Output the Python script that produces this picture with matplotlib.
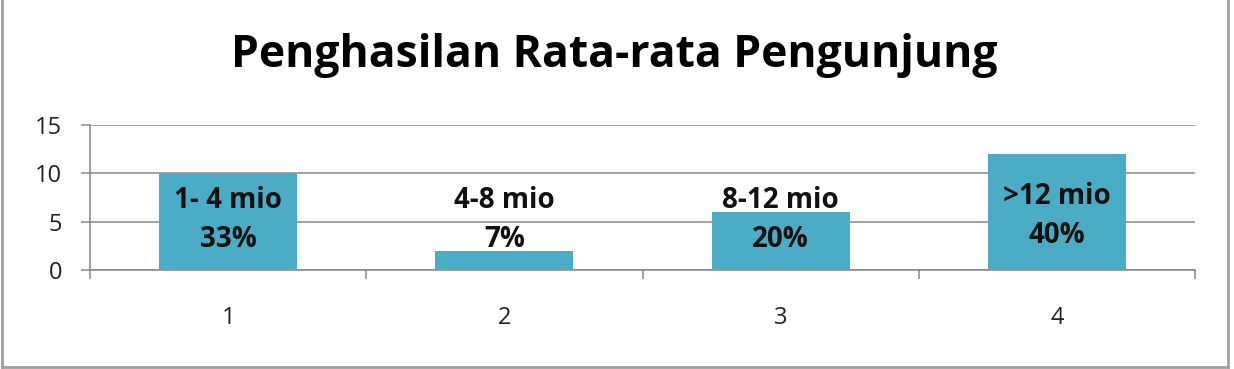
import matplotlib
matplotlib.use("Agg")
import matplotlib.pyplot as plt
from matplotlib.lines import Line2D

categories = ["1", "2", "3", "4"]
values = [10, 2, 6, 12]
labels = ["1- 4 mio\n33%", "4-8 mio\n7%", "8-12 mio\n20%", ">12 mio\n40%"]
label_y = [5.2, 5.2, 5.2, 5.6]
yticks = [0, 5, 10, 15]
title = "Penghasilan Rata-rata Pengunjung"

plt.rcParams['font.family'] = ['Open Sans', 'DejaVu Sans']

W, H = 1234, 369
fig = plt.figure(figsize=(W / 100, H / 100), dpi=100)
ax = fig.add_axes([90 / W, 1 - 270 / H, (1195 - 90) / W, (270 - 125) / H])

grid_c = "#868686"
bar_c = "#4BACC6"
x = list(range(len(categories)))
ax.bar(x, values, width=0.5, color=bar_c, zorder=3)
ax.set_xlim(-0.5, len(categories) - 0.5)
ax.set_ylim(0, 15)
ax.set_yticks(yticks)
ax.set_yticklabels([str(v) for v in yticks], fontsize=17, color="#222222")
ax.yaxis.grid(True, color=grid_c, linewidth=1.1, zorder=0)
ax.set_axisbelow(True)

ax.set_xticks(x)
ax.set_xticklabels(categories, fontsize=17, color="#222222")
ax.tick_params(axis='x', which='major', length=0, pad=26)
ax.set_xticks([i - 0.5 for i in range(len(categories) + 1)], minor=True)
ax.tick_params(axis='x', which='minor', length=6.5, width=1.1, color=grid_c, direction='out')
ax.tick_params(axis='y', length=6.5, width=1.1, color=grid_c, direction='out', pad=13.5)

for s in ['top', 'right']:
    ax.spines[s].set_visible(False)
for s in ['left', 'bottom']:
    ax.spines[s].set_color(grid_c)
    ax.spines[s].set_linewidth(1.1)

for xi, lab, ly in zip(x, labels, label_y):
    ax.text(xi, ly, lab, ha='center', va='center', fontsize=20, fontweight='bold',
            color="#111111", linespacing=1.45, zorder=4)

fig.text(614.5 / W, 1 - 55 / H, title, ha='center', va='center', fontsize=32,
         fontweight='bold', color="#000000")

# outer chart border
bc = "#A0A0A0"
fig.add_artist(Line2D([1.5 / W, 1.5 / W], [1 - 366.5 / H, 1], transform=fig.transFigure, color=bc, lw=2))
fig.add_artist(Line2D([1.5 / W, 1227.5 / W], [1 - 366.5 / H, 1 - 366.5 / H], transform=fig.transFigure, color=bc, lw=2))
fig.add_artist(Line2D([1227.5 / W, 1227.5 / W], [1 - 366.5 / H, 1], transform=fig.transFigure, color=bc, lw=2))

fig.savefig("out.png", dpi=100, facecolor="white")
